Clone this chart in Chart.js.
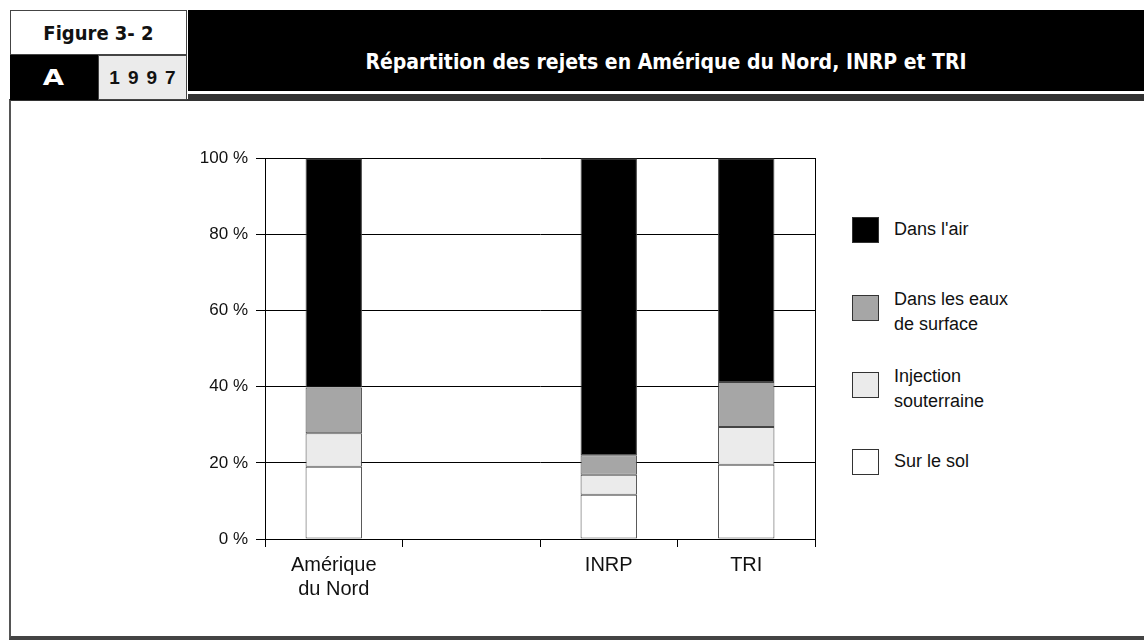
<!DOCTYPE html>
<html lang="fr">
<head>
  <meta charset="UTF-8">
  <title>Répartition des rejets en Amérique du Nord, INRP et TRI</title>
  <script src="https://cdn.jsdelivr.net/npm/chart.js"></script>
  <style>
    body { margin: 0; width: 1144px; height: 640px; position: relative; background: #fff; overflow: hidden;
           font-family: "Liberation Sans", Arial, sans-serif; color: #111; }
    .abs { position: absolute; box-sizing: border-box; }
    #figbox { left: 10px; top: 10px; width: 177px; height: 45px; border: 1px solid #444;
              font: bold 20px "Liberation Sans Narrow", "DejaVu Sans Condensed", sans-serif;
              display: flex; align-items: center; justify-content: center; }
    #abox { left: 10px; top: 55px; width: 88px; height: 45px; background: #000; color: #fff;
            font: bold 22px "DejaVu Sans", sans-serif; display: flex; align-items: center; justify-content: center; }
    #abox span { display: inline-block; transform: scaleX(1.25); }
    #yearbox { left: 98px; top: 55px; width: 89px; height: 45px; background: #ebebeb; border: 1px solid #444;
               font: bold 19px "Liberation Sans", sans-serif; letter-spacing: 8px; padding-left: 8px;
               display: flex; align-items: center; justify-content: center; }
    #titlebar { left: 188px; top: 10px; right: 0; height: 81px; background: #000; color: #fff;
                font: bold 21px "Liberation Sans Narrow", "DejaVu Sans Condensed", sans-serif;
                display: flex; align-items: center; justify-content: center; padding-top: 22px; }
    #titleline { left: 188px; top: 94px; right: 0; height: 6px; background: #333; }
    #frame { left: 9px; top: 99px; width: 1200px; height: 541px; border-left: 2px solid #555;
             border-top: 2px solid #333; border-bottom: 4px solid #444; }
    #chartbox { left: 170px; top: 140px; width: 680px; height: 470px; }
    .key { position: absolute; left: 852px; width: 27px; height: 26px; box-sizing: border-box; border: 1px solid #333; }
    .keytext { position: absolute; left: 894px; font-size: 18px; line-height: 25px; color: #111; }
  </style>
</head>
<body>
  <div id="frame" class="abs"></div>
  <div id="figbox" class="abs">Figure 3- 2</div>
  <div id="abox" class="abs"><span>A</span></div>
  <div id="yearbox" class="abs">1997</div>
  <div id="titlebar" class="abs">Répartition des rejets en Amérique du Nord, INRP et TRI</div>
  <div id="titleline" class="abs"></div>

  <div id="chartbox" class="abs"><canvas id="chart"></canvas></div>
  <div id="legend"></div>

  <script>
    // Categories (empty slot kept between Amérique du Nord and INRP)
    const categories = [['Amérique', 'du Nord'], '', 'INRP', 'TRI'];

    // Share of releases, in %
    const surLeSol    = [19.0, null, 11.6, 19.5];
    const injection   = [8.8,  null, 5.3,  9.9];
    const eauxSurface = [12.0, null, 5.1,  11.8];
    const air         = [60.2, null, 78.0, 58.8];

    const yTicks = [0, 20, 40, 60, 80, 100];

    const seriesNames = ['Sur le sol', 'Injection souterraine', 'Dans les eaux de surface', "Dans l'air"];
    const seriesColors = ['#ffffff', '#ebebeb', '#a6a6a6', '#000000'];

    // Legend (top to bottom, like the print)
    const legendItems = [
      { color: '#000000', lines: ["Dans l'air"], top: 217 },
      { color: '#a6a6a6', lines: ['Dans les eaux', 'de surface'], top: 295 },
      { color: '#ebebeb', lines: ['Injection', 'souterraine'], top: 372 },
      { color: '#ffffff', lines: ['Sur le sol'], top: 449 }
    ];
    const legend = document.getElementById('legend');
    legendItems.forEach(item => {
      const box = document.createElement('div');
      box.className = 'key';
      box.style.top = item.top + 'px';
      box.style.background = item.color;
      legend.appendChild(box);
      const txt = document.createElement('div');
      txt.className = 'keytext';
      txt.style.top = (item.top - (item.lines.length > 1 ? 8 : 0)) + 'px';
      txt.innerHTML = item.lines.join('<br>');
      legend.appendChild(txt);
    });

    const values = [surLeSol, injection, eauxSurface, air];
    const datasets = values.map((data, i) => ({
      label: seriesNames[i],
      data: data,
      backgroundColor: seriesColors[i],
      borderColor: '#444',
      borderWidth: 1,
      borderSkipped: false,
      barPercentage: 0.41,
      categoryPercentage: 1
    }));

    new Chart(document.getElementById('chart'), {
      type: 'bar',
      data: { labels: categories, datasets: datasets },
      options: {
        responsive: true,
        maintainAspectRatio: false,
        animation: false,
        layout: { padding: { top: 14, right: 35, bottom: 3, left: 0 } },
        plugins: { legend: { display: false }, tooltip: { enabled: false } },
        scales: {
          x: {
            stacked: true,
            grid: { display: true, drawOnChartArea: false, offset: true, tickLength: 8, color: '#000' },
            border: { display: true, color: '#000', width: 1 },
            ticks: { color: '#111', padding: 6, font: { family: 'Liberation Sans', size: 20, lineHeight: 1.2 } }
          },
          y: {
            stacked: true,
            min: 0,
            max: 100,
            afterBuildTicks: s => { s.ticks = yTicks.map(v => ({ value: v })); },
            afterFit: s => { s.width = 95; },
            grid: { color: '#000', tickLength: 9 },
            border: { display: true, color: '#000', width: 1 },
            ticks: { color: '#111', padding: 8, callback: v => v + ' %',
                     font: { family: 'Liberation Sans', size: 17 } }
          },
          y2: {
            position: 'right',
            grid: { display: false },
            ticks: { display: false },
            border: { display: true, color: '#000', width: 1 },
            afterFit: s => { s.width = 0; }
          }
        }
      }
    });
  </script>
</body>
</html>
